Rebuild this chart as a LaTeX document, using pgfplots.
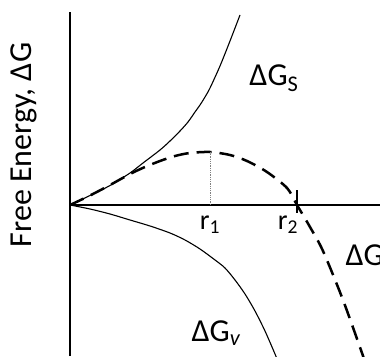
\documentclass[border=0pt]{standalone}
\usepackage{fontspec}
\setmainfont{Carlito}
\usepackage{pgfplots}
\pgfplotsset{compat=1.18}
\begin{document}
\begin{tikzpicture}
\begin{axis}[
  x=1pt, y=1pt,
  at={(0,0)}, anchor=origin,
  xmin=0, xmax=310, ymin=-151, ymax=193,
  axis lines=middle,
  axis line style={-, line width=1.4pt, black},
  xtick=\empty, ytick=\empty,
  clip=false,
]
% Delta G_S (surface term)
\addplot[black, line width=1.1pt, smooth] coordinates {
(0,0)(20,9.5)(40,19.5)(60,32)(73,42)(90,55)(100,64)(110,74)(118,83)(125,93)(130,100)(135,108)(140,117)(150,139)(160,164)(170,190)};
% Delta G_v (volume term)
\addplot[black, line width=1.1pt, smooth] coordinates {
(0,0)(20,-4)(40,-9)(60,-15)(80,-21)(100,-28)(115,-35)(130,-44)(145,-55)(155,-63)(165,-75)(175,-89)(185,-106)(195,-126)(205,-149)(207,-154)};
% total Delta G
\addplot[black, line width=2.5pt, smooth, dash pattern=on 15pt off 8pt] coordinates {
(0,0)(20,9.5)(40,20)(60,31)(75,38)(90,44)(105,49)(120,52)(140,53)(160,50)(177,44)(197,33)(217,17)(227,0)(240,-22)(253,-46)(273,-95)(292,-148)(293,-151)};
% r1 dotted line
\addplot[gray, line width=0.8pt, densely dotted] coordinates {(140,0)(140,53)};
% r2 tick
\addplot[black, line width=1.5pt] coordinates {(227,15)(227,-8)};
\end{axis}
\begin{scope}[font=\fontsize{32}{38}\selectfont]
\node[rotate=90] at (-46pt,60pt) {Free Energy, ΔG};
\node at (204pt,127pt) {ΔG\textsubscript{S}};
\node[anchor=west] at (272pt,-50pt) {ΔG};
\node[anchor=west] at (118pt,-128pt) {ΔG\textsubscript{\itshape v}};
\end{scope}
\begin{scope}[font=\fontsize{28}{32}\selectfont]
\node at (140pt,-20pt) {r\textsubscript{1}};
\node at (218pt,-20pt) {r\textsubscript{2}};
\end{scope}
\pgfresetboundingbox
\path[use as bounding box] (-70pt,-151pt) rectangle (310pt,205pt);
\end{tikzpicture}
\end{document}
